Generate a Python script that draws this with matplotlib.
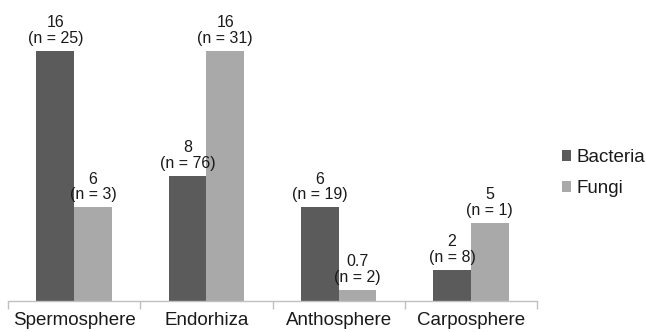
import numpy as np
import matplotlib
matplotlib.use("Agg")
from matplotlib import pyplot as plt

# counts per plant compartment
categories = ["Spermosphere", "Endorhiza", "Anthosphere", "Carposphere"]
bacteria = [16, 8, 6, 2]
fungi = [6, 16, 0.7, 5]
bacteria_n = [25, 76, 19, 8]
fungi_n = [3, 31, 2, 1]

plt.rcParams["font.family"] = ["Liberation Sans", "DejaVu Sans"]

fig = plt.figure(figsize=(6.46, 3.32), dpi=100)
ax = fig.add_axes([8 / 646, 31 / 332, 529 / 646, 281 / 332])

x = np.arange(len(categories))
w = 0.285
dark = "#5b5b5b"
light = "#a9a9a9"

b1 = ax.bar(x - w / 2, bacteria, w, color=dark, label="Bacteria")
b2 = ax.bar(x + w / 2, fungi, w, color=light, label="Fungi")


def fmt(v):
    return ("%g" % v)


for bars, vals, ns in ((b1, bacteria, bacteria_n), (b2, fungi, fungi_n)):
    for bar, v, n in zip(bars, vals, ns):
        ax.annotate("%s\n(n = %d)" % (fmt(v), n),
                    (bar.get_x() + bar.get_width() / 2, v),
                    xytext=(0, 3.5), textcoords="offset points",
                    ha="center", va="bottom", fontsize=11.5,
                    color="#1a1a1a", linespacing=1.08,
                    annotation_clip=False)

ax.set_xlim(-0.5, len(categories) - 0.5)
ax.set_ylim(0, 18)
for s in ("top", "right", "left"):
    ax.spines[s].set_visible(False)
ax.spines["bottom"].set_color("#c0c0c0")
ax.spines["bottom"].set_linewidth(1.0)
ax.set_yticks([])

# category separators as minor ticks, labels centred under each group
ax.set_xticks(x)
ax.set_xticklabels(categories, fontsize=13.5, color="#1a1a1a")
ax.tick_params(axis="x", which="major", length=0, pad=8)
ax.set_xticks(np.arange(len(categories) + 1) - 0.5, minor=True)
ax.tick_params(axis="x", which="minor", length=6, color="#c0c0c0", width=1.0)

fig.legend(handles=[b1, b2], loc="upper left", bbox_to_anchor=(562 / 646, 1 - 149 / 332),
           frameon=False, fontsize=13.5, handlelength=0.5, handleheight=0.5,
           handletextpad=0.25, labelspacing=0.75, borderaxespad=0, borderpad=0,
           labelcolor="#1a1a1a")

fig.savefig("out.png", dpi=100)
